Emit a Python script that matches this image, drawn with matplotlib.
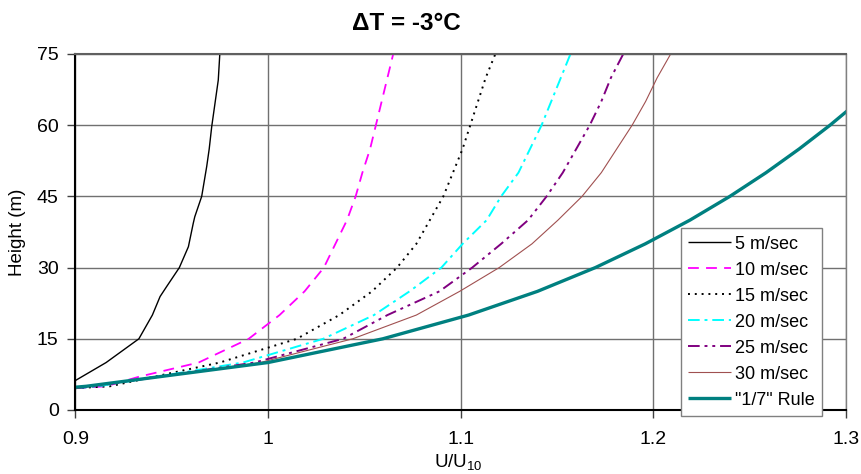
import matplotlib
matplotlib.use("Agg")
import matplotlib.pyplot as plt

plt.rcParams['font.family'] = ['Liberation Sans', 'DejaVu Sans']
plt.rcParams['mathtext.fontset'] = 'custom'
plt.rcParams['mathtext.rm'] = 'Liberation Sans'

# ---- data ----
z_5 = [6.2, 10, 15, 20, 23.9, 26, 30, 34.4, 39.3, 40.7, 45, 51.3, 55, 59.7, 64.6, 69.5, 75]
u_5 = [0.900, 0.916, 0.933, 0.940, 0.944, 0.9474, 0.954, 0.9587, 0.9612, 0.962, 0.9656, 0.9682,
       0.9695, 0.9708, 0.9725, 0.9742, 0.975]

z_10 = [4.6, 5, 7, 10, 15, 20, 25, 30, 35, 40, 45, 50, 55, 60, 65, 70, 75]
u_10 = [0.900, 0.916, 0.933, 0.964, 0.990, 1.006, 1.019, 1.029, 1.035, 1.041, 1.0455, 1.049,
        1.053, 1.056, 1.059, 1.062, 1.065]

z_std = [4.6, 5, 10, 15, 20, 25, 30, 35, 40, 45, 50, 55, 60, 65, 70, 75]
u_15 = [0.900, 0.918, 0.975, 1.015, 1.037, 1.054, 1.067, 1.077, 1.084, 1.091, 1.096, 1.101,
        1.105, 1.109, 1.113, 1.118]
u_20 = [0.900, 0.912, 0.987, 1.0287, 1.055, 1.0735, 1.090, 1.101, 1.1135, 1.121, 1.130, 1.136,
        1.142, 1.147, 1.152, 1.157]
u_25 = [0.900, 0.910, 0.993, 1.039, 1.062, 1.089, 1.106, 1.121, 1.135, 1.1446, 1.153, 1.160,
        1.167, 1.173, 1.178, 1.1844]
u_30 = [0.900, 0.909, 0.996, 1.044, 1.077, 1.0995, 1.120, 1.137, 1.1505, 1.163, 1.173, 1.181,
        1.189, 1.196, 1.202, 1.209]

z_rule = [4, 5, 10, 15, 20, 25, 30, 35, 40, 45, 50, 55, 60, 65]
u_rule = [0.877, 0.9057, 1.0, 1.0596, 1.1041, 1.1399, 1.1699, 1.1958, 1.2190, 1.2397, 1.2585,
          1.2757, 1.2917, 1.3065]

labels = ["5 m/sec", "10 m/sec", "15 m/sec", "20 m/sec", "25 m/sec", "30 m/sec", '"1/7" Rule']
x_ticks = [0.9, 1.0, 1.1, 1.2, 1.3]
x_tick_labels = ["0.9", "1", "1.1", "1.2", "1.3"]
y_ticks = [0, 15, 30, 45, 60, 75]

# ---- figure ----
fig = plt.figure(figsize=(8.62, 4.74), dpi=100)
ax = fig.add_axes([75.3 / 862, 1 - 410 / 474, (846 - 75.3) / 862, (410 - 54) / 474])

series = [
    (u_5, z_5, dict(color='black', lw=1.0, ls='-')),
    (u_10, z_10, dict(color='#ff00ff', lw=1.3, ls=(0, (6, 4)))),
    (u_15, z_std, dict(color='black', lw=1.4, ls=(0, (1, 2.5)))),
    (u_20, z_std, dict(color='#00ffff', lw=1.4, ls=(0, (6, 2.5, 1.5, 2.5)))),
    (u_25, z_std, dict(color='#800080', lw=1.4, ls=(0, (6, 2.5, 1.5, 2.5, 1.5, 2.5)))),
    (u_30, z_std, dict(color='#a05050', lw=0.8, ls='-')),
    (u_rule, z_rule, dict(color='#008080', lw=2.4, ls='-')),
]
for (u, z, st), lab in zip(series, labels):
    ax.plot(u, z, label=lab, solid_capstyle='butt', dash_capstyle='butt', **st)

ax.set_xlim(0.9, 1.3)
ax.set_ylim(0, 75)
ax.set_xticks(x_ticks)
ax.set_xticklabels(x_tick_labels)
ax.set_yticks(y_ticks)
ax.grid(True, color='#707070', lw=1.0)
ax.set_axisbelow(True)
ax.tick_params(direction='out', length=6, width=1, labelsize=14, color='#404040')
ax.tick_params(axis='x', pad=9)
ax.tick_params(axis='y', pad=6)
for s in ax.spines.values():
    s.set_color('#808080')
    s.set_linewidth(1.0)
ax.spines['left'].set_color('black')
ax.spines['left'].set_linewidth(1.5)
ax.spines['bottom'].set_color('black')
ax.spines['bottom'].set_linewidth(1.5)
ax.spines['top'].set_color('#606060')
ax.spines['top'].set_linewidth(1.5)

ax.set_ylabel("Height (m)", fontsize=13.5, labelpad=8)
fig.text(458 / 862, 1 - 462 / 474, r'U/U$\mathregular{_{10}}$', fontsize=13.5,
         ha='center', va='center')
fig.text(406 / 862, 1 - 24 / 474, "\u0394T = -3\u00b0C", fontsize=17.5, fontweight='bold',
         ha='center', va='center')

leg = ax.legend(loc='lower left', bbox_to_anchor=(680.7 / 862, 1 - 416 / 474),
                bbox_transform=fig.transFigure, fontsize=13, frameon=True, fancybox=False,
                edgecolor='#808080', framealpha=1, handlelength=2.4, handletextpad=0.2,
                labelspacing=0.5, borderpad=0.4, borderaxespad=0)
leg.get_frame().set_linewidth(1.0)

fig.savefig("out.png", dpi=100)
